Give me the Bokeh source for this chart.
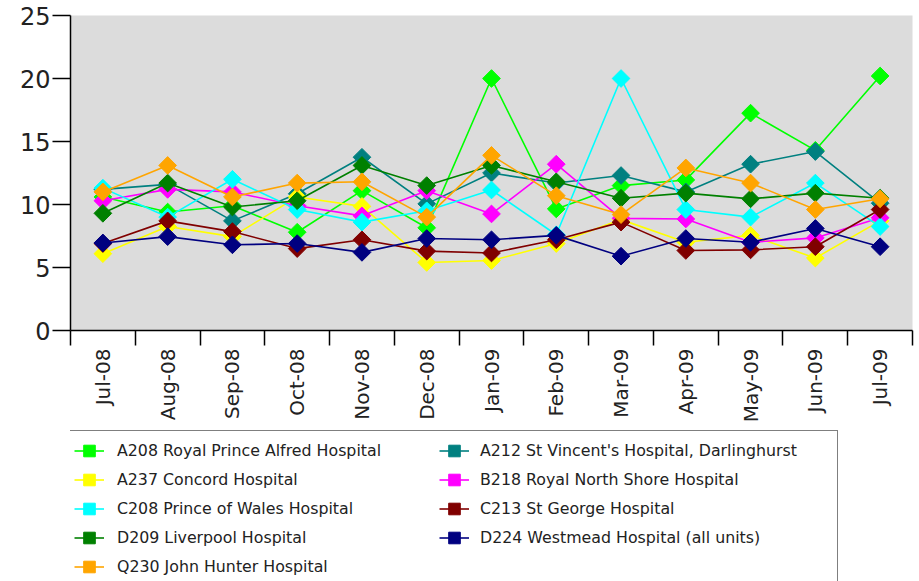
import math

from bokeh.plotting import figure
from bokeh.layouts import column
from bokeh.models import Range1d, FixedTicker, Legend, LegendItem
from bokeh.embed import file_html
from bokeh.resources import INLINE

# Monthly values per hospital, Jul-08 .. Jul-09
MONTHS = ["Jul-08", "Aug-08", "Sep-08", "Oct-08", "Nov-08", "Dec-08", "Jan-09",
          "Feb-09", "Mar-09", "Apr-09", "May-09", "Jun-09", "Jul-09"]

A208 = [10.6, 9.4, 9.9, 7.8, 11.1, 8.15, 20.0, 9.65, 11.5, 11.95, 17.25, 14.3, 20.2]
A212 = [11.2, 11.6, 8.7, 10.85, 13.75, 10.05, 12.5, 11.7, 12.3, 11.0, 13.2, 14.2, 10.1]
A237 = [6.1, 8.25, 7.45, 10.6, 9.85, 5.4, 5.55, 6.9, 8.8, 7.0, 7.55, 5.75, 8.7]
B218 = [10.3, 11.2, 11.0, 9.9, 9.1, 11.1, 9.25, 13.2, 8.9, 8.85, 7.0, 7.35, 8.95]
C208 = [11.3, 9.0, 12.0, 9.6, 8.6, 9.5, 11.15, 7.6, 20.0, 9.6, 9.0, 11.7, 8.25]
C213 = [6.9, 8.7, 7.85, 6.5, 7.2, 6.3, 6.15, 7.2, 8.6, 6.35, 6.4, 6.65, 9.6]
D209 = [9.3, 11.7, 9.8, 10.3, 13.1, 11.5, 13.1, 11.8, 10.5, 10.9, 10.45, 10.9, 10.5]
D224 = [6.95, 7.45, 6.8, 6.9, 6.2, 7.3, 7.2, 7.55, 5.9, 7.3, 7.0, 8.1, 6.65]
Q230 = [11.0, 13.1, 10.6, 11.7, 11.8, 9.0, 13.9, 10.7, 9.2, 12.9, 11.7, 9.6, 10.45]

SERIES = [
    ("A208 Royal Prince Alfred Hospital", A208, "#00ff00"),
    ("A212 St Vincent's Hospital, Darlinghurst", A212, "#008080"),
    ("A237 Concord Hospital", A237, "#ffff00"),
    ("B218 Royal North Shore Hospital", B218, "#ff00ff"),
    ("C208 Prince of Wales Hospital", C208, "#00ffff"),
    ("C213 St George Hospital", C213, "#800000"),
    ("D209 Liverpool Hospital", D209, "#008000"),
    ("D224 Westmead Hospital (all units)", D224, "#000080"),
    ("Q230 John Hunter Hospital", Q230, "#ffa500"),
]

Y_TICKS = [0, 5, 10, 15, 20, 25]

FONT = "DejaVu Sans"
TEXT = "#222222"
MARKER_SIZE = 12.5

n = len(MONTHS)
centers = [i + 0.5 for i in range(n)]

# ---- main chart ----
p = figure(width=919, height=425, output_backend="svg", toolbar_location=None,
           x_range=Range1d(0, n), y_range=Range1d(0, 25),
           min_border_left=70, min_border_right=7, min_border_top=15,
           min_border_bottom=95)
p.background_fill_color = "#dcdcdc"
p.border_fill_color = "white"
p.outline_line_color = None
p.xgrid.grid_line_color = None
p.ygrid.grid_line_color = None

# x axis: month labels at category centres, tick marks on the boundaries
xa = p.xaxis[0]
xa.ticker = FixedTicker(ticks=centers, minor_ticks=list(range(n + 1)))
xa.major_label_overrides = {c: m for c, m in zip(centers, MONTHS)}
xa.major_label_orientation = math.pi / 2
xa.major_tick_out = 15
xa.major_tick_in = 0
xa.major_tick_line_color = None
xa.minor_tick_out = 15
xa.minor_tick_in = 0
xa.minor_tick_line_color = "black"
xa.minor_tick_line_width = 1.5
xa.axis_line_color = "black"
xa.axis_line_width = 1.5
xa.major_label_standoff = 3
xa.major_label_text_font = FONT
xa.major_label_text_font_size = "20px"
xa.major_label_text_color = TEXT

ya = p.yaxis[0]
ya.ticker = FixedTicker(ticks=Y_TICKS)
ya.major_tick_out = 18
ya.major_tick_in = 0
ya.minor_tick_out = 0
ya.minor_tick_in = 0
ya.major_tick_line_color = "black"
ya.major_tick_line_width = 1.5
ya.axis_line_color = "black"
ya.axis_line_width = 1.5
ya.major_label_standoff = 2
ya.major_label_text_font = FONT
ya.major_label_text_font_size = "24px"
ya.major_label_text_color = TEXT

for label, vals, color in SERIES:
    p.line(centers, vals, line_color=color, line_width=1.6)
    p.scatter(centers, vals, marker="square", size=MARKER_SIZE, angle=math.pi / 4,
              fill_color=color, line_color=color, line_width=1)

# ---- legend panel underneath ----
# The series are repeated here only to feed the legend; the x range lies
# left of all data so nothing but the legend is visible in this panel.
lg = figure(width=919, height=156, output_backend="svg", toolbar_location=None,
            x_range=Range1d(-2, -1), y_range=Range1d(0, 25),
            min_border_left=0, min_border_right=0, min_border_top=0,
            min_border_bottom=0, x_axis_location=None, y_axis_location=None)
lg.outline_line_color = None
lg.background_fill_color = "white"
lg.border_fill_color = "white"
lg.xgrid.grid_line_color = None
lg.ygrid.grid_line_color = None

items = []
for label, vals, color in SERIES:
    ln = lg.line(centers, vals, line_color=color, line_width=1.6)
    mk = lg.scatter(centers, vals, marker="square", size=MARKER_SIZE, angle=math.pi / 4,
                    fill_color=color, line_color=color, line_width=1)
    items.append(LegendItem(label=label, renderers=[ln, mk]))

common = dict(orientation="vertical", glyph_width=30, glyph_height=29, spacing=0,
              padding=5, margin=0, label_text_font=FONT,
              label_text_font_size="15.8px", label_text_color=TEXT)

# left column carries the frame of the whole legend box
leg_left = Legend(items=items[0::2], location=(-2, -5.5), label_standoff=13,
                  label_width=715, border_line_color="black", border_line_width=1.5,
                  background_fill_color="white", background_fill_alpha=1.0, **common)
leg_right = Legend(items=items[1::2], location=(369, 29.5), label_standoff=11,
                   border_line_color=None, background_fill_alpha=0.0, **common)
lg.add_layout(leg_left)
lg.add_layout(leg_right)

open("out.html", "w").write(file_html(column(p, lg, spacing=0), INLINE))
